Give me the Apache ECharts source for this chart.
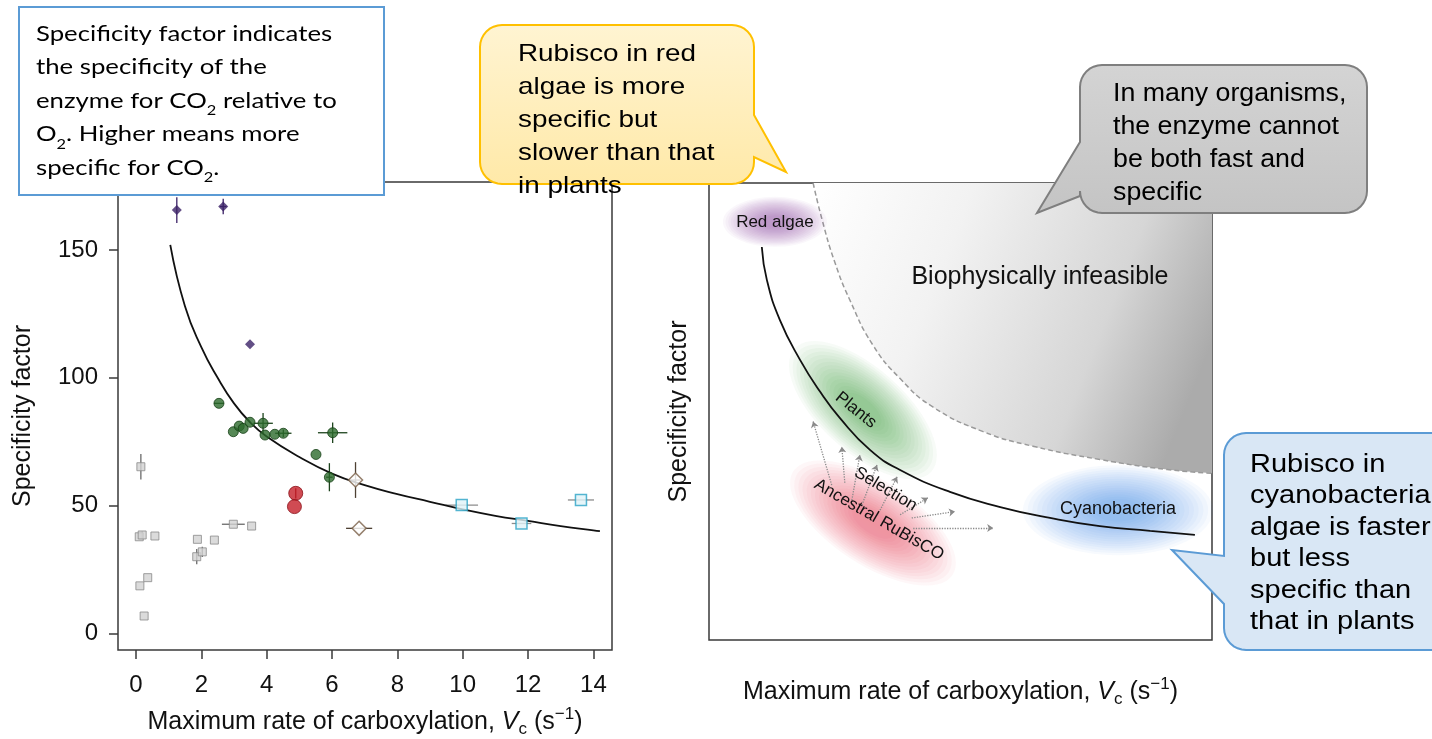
<!DOCTYPE html>
<html><head><meta charset="utf-8">
<script src="https://cdn.jsdelivr.net/npm/echarts@6/dist/echarts.min.js"></script>
<style>html,body{margin:0;padding:0;background:#fff}#c{width:1432px;height:739px}</style>
</head><body><div id="c"></div>
<script>
// ---------- LEFT PANEL DATA ----------
const xTicksL = [0, 2, 4, 6, 8, 10, 12, 14];
const yTicksL = [0, 50, 100, 150];
// [Vc, specificity, Vc error, specificity error]
const grayPts = [
  [0.15, 65.2, 0, 5], [0.10, 37.8, 0, 0], [0.19, 38.5, 0, 1.5], [0.58, 38.1, 0, 0],
  [0.12, 18.6, 0, 0], [0.36, 21.8, 0, 0], [0.25, 6.8, 0, 0], [1.88, 36.8, 0, 0],
  [2.40, 36.5, 0, 0], [1.86, 30.0, 0, 3], [2.03, 31.9, 0, 2], [2.98, 42.7, 0.35, 0],
  [3.54, 42.0, 0, 0]
];
const purplePts = [[1.25, 165.6, 0, 5], [2.67, 167.0, 0.1, 3], [3.49, 113.1, 0, 0]];
const greenPts = [
  [2.54, 90.0, 0.15, 0], [2.98, 78.9, 0, 0], [3.16, 81.1, 0, 0], [3.28, 80.2, 0, 0],
  [3.49, 82.6, 0, 0], [3.89, 82.2, 0.3, 4], [3.95, 77.6, 0, 0], [4.25, 77.9, 0, 0],
  [4.51, 78.3, 0.25, 1.5], [6.02, 78.5, 0.45, 4], [5.51, 70.0, 0, 0], [5.92, 61.1, 0.1, 5.5]
];
const redPts = [[4.89, 54.8, 0, 2], [4.85, 49.6, 0, 0]];
const tanPts = [[6.72, 60.0, 0.15, 7], [6.83, 41.1, 0.4, 0]];
const cyanPts = [[9.97, 50.2, 0.5, 0], [11.8, 43.0, 0.3, 0], [13.62, 52.2, 0.4, 0]];
const fitX = [1.05, 1.5, 2, 2.5, 3, 3.5, 4, 5, 6, 7, 8, 9, 10, 11, 12, 13, 14, 14.2];
const fitY = [152, 128, 112, 100, 90, 82.5, 77, 69, 62.5, 58, 54.5, 51.5, 48.5, 46, 44, 42, 40.3, 40];

// ---------- RIGHT PANEL (schematic, 0-100 units) ----------
const tradeX = [10.5, 11.5, 14.1, 18.1, 22.1, 26.0, 32.0, 38.0, 47.9, 57.9, 67.8, 77.7, 87.7, 96.6];
const tradeY = [86.0, 78.8, 70.0, 61.3, 54.3, 48.6, 41.6, 37.2, 32.4, 29.1, 26.7, 24.9, 23.9, 23.0];
const limitX = [20.7, 22.5, 25.0, 28.0, 32.6, 38.0, 44.5, 54.5, 64.4, 77.7, 91.1, 100];
const limitY = [100, 91.9, 82.7, 74.4, 64.5, 57.2, 51.0, 45.6, 42.4, 39.5, 37.3, 36.5];
const groupNames = ['Red algae', 'Plants', 'Ancestral RuBisCO', 'Cyanobacteria'];
const groupX = [13.1, 30.6, 32.6, 81.3];
const groupY = [91.5, 50.3, 25.6, 28.4];
const noteNames = ['Red algae', 'Plants', 'Selection', 'Ancestral RuBisCO', 'Cyanobacteria', 'Biophysically infeasible'];
const noteX = [13.1, 29.2, 35.1, 33.8, 81.3, 65.8];
const noteY = [91.5, 50.3, 33.0, 26.3, 28.6, 79.4];
const arrowFrom = [[24.4, 33.9], [27.0, 34.4], [28.4, 30.6], [30.4, 29.5], [34.0, 28.4], [38.0, 27.4], [40.3, 26.7], [40.6, 24.5]];
const arrowTo = [[20.7, 47.8], [26.4, 42.3], [30.0, 40.5], [33.4, 38.3], [37.4, 35.7], [43.5, 31.1], [48.9, 28.1], [56.5, 24.5]];

// ---------- STYLES ----------
const FONT = 'Liberation Sans';
const TXT = '#111111';
const ellipseStyle = {
  'Red algae': { size: [104, 50], rot: 0, rgb: '140,55,150' },
  'Plants': { size: [184, 84], rot: -42, rgb: '55,160,55' },
  'Ancestral RuBisCO': { size: [190, 84], rot: -33, rgb: '220,55,75' },
  'Cyanobacteria': { size: [190, 90], rot: 0, rgb: '55,135,225' }
};
const noteStyle = {
  'Red algae': { rot: 0, fs: 17 },
  'Plants': { rot: -39, fs: 17 },
  'Selection': { rot: -31, fs: 17 },
  'Ancestral RuBisCO': { rot: -30, fs: 17 },
  'Cyanobacteria': { rot: 0, fs: 18 },
  'Biophysically infeasible': { rot: 0, fs: 25 }
};
const ellipseLayers = [1.0, 0.95, 0.9, 0.85, 0.8, 0.75, 0.7, 0.65, 0.6, 0.55, 0.5, 0.45, 0.4, 0.35, 0.3, 0.25];

function errSeries(pts, color) {
  return {
    type: 'custom', xAxisIndex: 0, yAxisIndex: 0, silent: true, z: 3,
    data: pts,
    renderItem: function (params, api) {
      const x = api.value(0), y = api.value(1), ex = api.value(2), ey = api.value(3);
      const ch = [];
      if (ex > 0) {
        const a = api.coord([x - ex, y]), b = api.coord([x + ex, y]);
        ch.push({ type: 'line', shape: { x1: a[0], y1: a[1], x2: b[0], y2: b[1] }, style: { stroke: color, lineWidth: 1.3 } });
      }
      if (ey > 0) {
        const a = api.coord([x, y - ey]), b = api.coord([x, y + ey]);
        ch.push({ type: 'line', shape: { x1: a[0], y1: a[1], x2: b[0], y2: b[1] }, style: { stroke: color, lineWidth: 1.3 } });
      }
      return { type: 'group', children: ch };
    }
  };
}
function markerSeries(pts, symbol, size, itemStyle) {
  return {
    type: 'scatter', xAxisIndex: 0, yAxisIndex: 0, z: 5, symbol: symbol, symbolSize: size,
    itemStyle: itemStyle, data: pts.map(p => [p[0], p[1]])
  };
}

const series = [];
// left panel
series.push({
  type: 'line', xAxisIndex: 0, yAxisIndex: 0, z: 4, smooth: true, showSymbol: false, silent: true,
  lineStyle: { color: '#111', width: 1.8 }, data: fitX.map((x, i) => [x, fitY[i]])
});
series.push(errSeries(grayPts, '#6a6a6a'));
series.push(errSeries(purplePts, '#3b2266'));
series.push(errSeries(greenPts, '#1d441d'));
series.push(errSeries(redPts, '#8a1018'));
series.push(errSeries(tanPts, '#4e4033'));
series.push(errSeries(cyanPts, '#8c8c8c'));
series.push(markerSeries(grayPts, 'rect', 8, { color: '#d2d2d2', borderColor: '#8a8a8a', borderWidth: 1 }));
series.push(markerSeries(purplePts, 'diamond', 10, { color: '#3b2266' }));
series.push(markerSeries(greenPts, 'circle', 10, { color: '#2c6a2c', borderColor: '#174017', borderWidth: 1 }));
series.push(markerSeries(redPts, 'circle', 14, { color: '#c41e28', borderColor: '#8a1018', borderWidth: 1 }));
series.push(markerSeries(tanPts, 'diamond', 14, { color: '#ffffff', borderColor: '#7a6048', borderWidth: 1.5 }));
series.push(markerSeries(cyanPts, 'rect', 11, { color: '#e0f3f8', borderColor: '#2ba3c6', borderWidth: 1.5 }));

// right panel: infeasible region
series.push({
  type: 'line', xAxisIndex: 1, yAxisIndex: 1, z: 2, smooth: true, showSymbol: false, silent: true,
  lineStyle: { color: '#9a9a9a', width: 1.5, type: [5, 3] },
  areaStyle: {
    origin: 'end', opacity: 1,
    color: new echarts.graphic.LinearGradient(0, 0, 1, 0.55, [
      { offset: 0, color: '#ffffff' }, { offset: 0.35, color: '#f2f2f2' },
      { offset: 0.75, color: '#d6d6d6' }, { offset: 1, color: '#ababab' }
    ])
  },
  data: limitX.map((x, i) => [x, limitY[i]])
});
// fuzzy ellipses (many faint layers)
ellipseLayers.forEach(function (f) {
  series.push({
    type: 'scatter', xAxisIndex: 1, yAxisIndex: 1, z: 3, silent: true, symbol: 'circle', clip: false,
    data: groupNames.map(function (n, i) {
      const st = ellipseStyle[n];
      return {
        value: [groupX[i], groupY[i]], symbolSize: [st.size[0] * f, st.size[1] * f], symbolRotate: st.rot,
        itemStyle: { color: 'rgba(' + st.rgb + ',0.05)', shadowBlur: 18, shadowColor: 'rgba(' + st.rgb + ',0.06)' }
      };
    })
  });
});
// trade-off curve
series.push({
  type: 'line', xAxisIndex: 1, yAxisIndex: 1, z: 6, smooth: true, showSymbol: false, silent: true,
  lineStyle: { color: '#111', width: 1.8 }, data: tradeX.map((x, i) => [x, tradeY[i]])
});
// selection arrows
series.push({
  type: 'lines', coordinateSystem: 'cartesian2d', xAxisIndex: 1, yAxisIndex: 1, z: 7, silent: true,
  symbol: ['none', 'arrow'], symbolSize: 6,
  lineStyle: { color: '#8a8a8a', width: 1.3, type: 'dotted', opacity: 1 },
  data: arrowFrom.map((a, i) => ({ coords: [a, arrowTo[i]] }))
});
// notes
series.push({
  type: 'scatter', xAxisIndex: 1, yAxisIndex: 1, z: 8, silent: true, symbolSize: 1,
  itemStyle: { color: 'rgba(0,0,0,0)' },
  label: { show: true, position: 'inside', formatter: '{b}', color: TXT, fontFamily: FONT, textBorderWidth: 0, opacity: 1 },
  data: noteNames.map((n, i) => ({
    name: n, value: [noteX[i], noteY[i]],
    label: { rotate: noteStyle[n].rot, fontSize: noteStyle[n].fs }
  }))
});

// ---------- CALLOUTS ----------
function calloutPts(x, y, w, h, r, side, a, tip, b) {
  const pts = [];
  function arc(cx, cy, a0, a1) {
    for (let k = 0; k <= 8; k++) { const t = a0 + (a1 - a0) * k / 8; pts.push([cx + r * Math.cos(t), cy + r * Math.sin(t)]); }
  }
  arc(x + r, y + r, Math.PI, 1.5 * Math.PI);
  arc(x + w - r, y + r, 1.5 * Math.PI, 2 * Math.PI);
  if (side === 'right') { pts.push([x + w, a], tip, [x + w, b]); }
  arc(x + w - r, y + h - r, 0, 0.5 * Math.PI);
  arc(x + r, y + h - r, 0.5 * Math.PI, Math.PI);
  if (side === 'left') { pts.push([x, b], tip, [x, a]); }
  return pts;
}
const richSub = { s: { fontSize: 14, fontFamily: 'Lato', verticalAlign: 'bottom', lineHeight: 22, fill: '#000' } };
const graphics = [
  { type: 'rect', z: 100, shape: { x: 19, y: 7, width: 365, height: 188 }, style: { fill: '#fff', stroke: '#5b9bd5', lineWidth: 2 } },
  { type: 'text', z: 101, x: 36, y: 17, scaleX: 1.17, style: {
      text: 'Specificity factor indicates\nthe specificity of the\nenzyme for CO{s|2} relative to\nO{s|2}. Higher means more\nspecific for CO{s|2}.',
      fontFamily: 'Lato', fontSize: 22, lineHeight: 33.5, fill: '#000', verticalAlign: 'top', rich: richSub } },
  { type: 'polygon', z: 100, shape: { points: calloutPts(480, 25, 274, 159, 22, 'right', 115, [786, 172], 157) },
    style: { fill: new echarts.graphic.LinearGradient(0, 0, 0, 1, [{ offset: 0, color: '#fff4d2' }, { offset: 1, color: '#ffe9a8' }]), stroke: '#ffc000', lineWidth: 2 } },
  { type: 'text', z: 101, x: 518, y: 38, scaleX: 1.16, style: {
      text: 'Rubisco in red\nalgae is more\nspecific but\nslower than that\nin plants',
      fontFamily: FONT, fontSize: 24, lineHeight: 33, fill: '#000', verticalAlign: 'top' } },
  { type: 'polygon', z: 100, shape: { points: calloutPts(1080, 65, 287, 148, 22, 'left', 142, [1037, 213], 196) },
    style: { fill: new echarts.graphic.LinearGradient(0, 0, 0, 1, [{ offset: 0, color: '#d4d4d4' }, { offset: 1, color: '#c4c4c4' }]), stroke: '#7f7f7f', lineWidth: 2 } },
  { type: 'text', z: 101, x: 1113, y: 77, scaleX: 1.07, style: {
      text: 'In many organisms,\nthe enzyme cannot\nbe both fast and\nspecific',
      fontFamily: FONT, fontSize: 25, lineHeight: 33.3, fill: '#000', verticalAlign: 'top' } },
  { type: 'polygon', z: 100, shape: { points: calloutPts(1224, 433, 240, 217, 22, 'left', 556, [1172, 550], 604) },
    style: { fill: '#d9e7f5', stroke: '#5b9bd5', lineWidth: 2 } },
  { type: 'text', z: 101, x: 1250, y: 449, scaleX: 1.16, style: {
      text: 'Rubisco in\ncyanobacteria\nalgae is faster\nbut less\nspecific than\nthat in plants',
      fontFamily: FONT, fontSize: 25, lineHeight: 31.5, fill: '#000', verticalAlign: 'top' } }
];

const nameRich = {
  i: { fontStyle: 'italic', fontSize: 25, fontFamily: FONT, color: TXT },
  sub: { fontSize: 17, fontFamily: FONT, verticalAlign: 'bottom', lineHeight: 22, color: TXT },
  sup: { fontSize: 17, fontFamily: FONT, verticalAlign: 'top', lineHeight: 20, color: TXT }
};
const xName = 'Maximum rate of carboxylation, {i|V}{sub|c} (s{sup|−1})';

const option = {
  animation: false,
  backgroundColor: '#ffffff',
  grid: [
    { left: 118, top: 182, width: 494, height: 468, show: true, borderColor: '#3a3a3a', borderWidth: 1.5, backgroundColor: 'transparent', containLabel: false, outerBoundsMode: 'none' },
    { left: 709, top: 183, width: 503, height: 457, show: true, borderColor: '#3a3a3a', borderWidth: 1.5, backgroundColor: 'transparent', containLabel: false, outerBoundsMode: 'none' }
  ],
  xAxis: [
    { gridIndex: 0, type: 'value', min: -0.55, max: 14.57, axisLine: { show: false, onZero: false }, splitLine: { show: false },
      axisTick: { show: true, customValues: xTicksL, length: 9, lineStyle: { color: '#3a3a3a', width: 1.5 } },
      axisLabel: { customValues: xTicksL, fontSize: 24, color: TXT, fontFamily: FONT, margin: 23 },
      name: xName, nameLocation: 'middle', nameGap: 56,
      nameTextStyle: { fontSize: 25, color: TXT, fontFamily: FONT, lineHeight: 32, rich: nameRich } },
    { gridIndex: 1, type: 'value', min: 0, max: 100, axisLine: { show: false, onZero: false }, axisTick: { show: false },
      axisLabel: { show: false }, splitLine: { show: false },
      name: xName, nameLocation: 'middle', nameGap: 36,
      nameTextStyle: { fontSize: 25, color: TXT, fontFamily: FONT, lineHeight: 32, rich: nameRich } }
  ],
  yAxis: [
    { gridIndex: 0, type: 'value', min: -6.5, max: 176.6, axisLine: { show: false, onZero: false }, splitLine: { show: false },
      axisTick: { show: true, customValues: yTicksL, length: 9, lineStyle: { color: '#3a3a3a', width: 1.5 } },
      axisLabel: { customValues: yTicksL, fontSize: 24, color: TXT, fontFamily: FONT, margin: 20 },
      name: 'Specificity factor', nameLocation: 'middle', nameGap: 82, nameRotate: 90,
      nameTextStyle: { fontSize: 25, color: TXT, fontFamily: FONT } },
    { gridIndex: 1, type: 'value', min: 0, max: 100, axisLine: { show: false, onZero: false }, axisTick: { show: false },
      axisLabel: { show: false }, splitLine: { show: false },
      name: 'Specificity factor', nameLocation: 'middle', nameGap: 17, nameRotate: 90,
      nameTextStyle: { fontSize: 25, color: TXT, fontFamily: FONT } }
  ],
  series: series,
  graphic: { elements: graphics }
};
const chart = echarts.init(document.getElementById('c'), null, { renderer: 'canvas' });
chart.setOption(option);
</script>
</body></html>
